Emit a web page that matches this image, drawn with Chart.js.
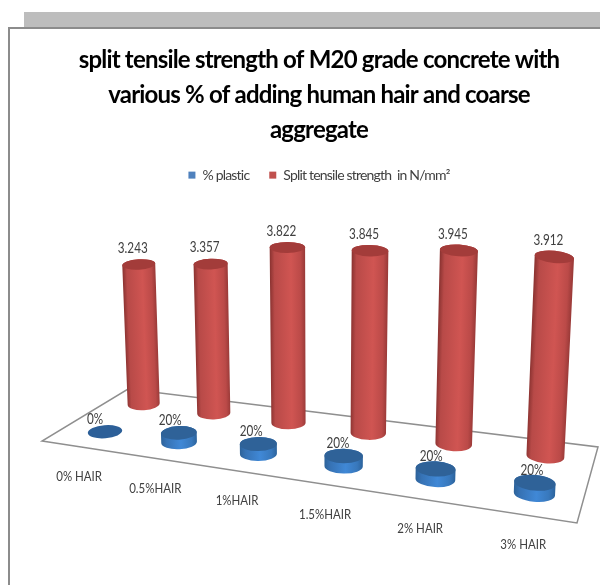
<!DOCTYPE html>
<html>
<head>
<meta charset="utf-8">
<title>Split tensile strength</title>
<style>
  html, body { margin: 0; padding: 0; background: #fff; overflow: hidden; }
  #stage { position: relative; width: 600px; height: 585px; overflow: hidden; }
  #band { position: absolute; left: 24px; top: 12px; right: 0; height: 16px; background: #bdbdbd; }
  #frame { position: absolute; left: 8px; top: 27px; width: 640px; height: 640px; box-sizing: border-box; border: 2px solid #8c8c8c; background: #fff; }
  canvas { position: absolute; left: 0; top: 0; }
</style>
<script src="https://cdn.jsdelivr.net/npm/chart.js@4"></script>
</head>
<body>
<div id="stage">
  <div id="band"></div>
  <div id="frame"></div>
  <canvas id="chart" width="600" height="585"></canvas>
</div>
<script>
// Hair content of each mix
const categories = ['0% HAIR', '0.5%HAIR', '1%HAIR', '1.5%HAIR', '2% HAIR', '3% HAIR'];
// Plastic share, stored as a fraction on the same axis as the strength
const plasticShare = [0, 0.2, 0.2, 0.2, 0.2, 0.2];
// Split tensile strength in N/mm²
const tensileStrength = [3.243, 3.357, 3.822, 3.845, 3.945, 3.912];
const titleLines = [
  'split tensile strength of M20 grade concrete with',
  'various % of adding human hair and coarse',
  'aggregate'
];
const seriesNames = ['% plastic', 'Split tensile strength  in N/mm²'];

// Floor of the 3D scene, in canvas pixels: front-left, front-right, back-right, back-left
const FLOOR = [[42, 441], [577, 523], [598, 447], [128, 389]];
const ROW_DEPTH = [0.25, 0.77];       // depth of each series along the floor
const ROW_SHIFT = [4, 0];             // sideways offset of each row, in pixels
const UNIT_HEIGHT = 47.2;             // pixels per axis unit at the reference depth
const RADIUS_X = 17.6, RADIUS_Y = 6.7;
const FONT = 'Lato, Carlito, sans-serif';

// Solve the perspective transform taking the unit square onto the floor
function floorTransform([p0, p1, p2, p3]) {
  const dx1 = p1[0] - p2[0], dy1 = p1[1] - p2[1];
  const dx2 = p3[0] - p2[0], dy2 = p3[1] - p2[1];
  const sx = p0[0] - p1[0] + p2[0] - p3[0], sy = p0[1] - p1[1] + p2[1] - p3[1];
  const det = dx1 * dy2 - dy1 * dx2;
  const g = (sx * dy2 - sy * dx2) / det;
  const h = (dx1 * sy - dy1 * sx) / det;
  const a = p1[0] - p0[0] + g * p1[0], b = p3[0] - p0[0] + h * p3[0];
  const d = p1[1] - p0[1] + g * p1[1], e = p3[1] - p0[1] + h * p3[1];
  return (u, v) => {
    const w = g * u + h * v + 1;
    return { x: (a * u + b * v + p0[0]) / w, y: (d * u + e * v + p0[1]) / w, w };
  };
}
const toFloor = floorTransform(FLOOR);

// Project a bar element from the chart's scales into the scene
function projectBar(chart, bar, datasetIndex) {
  const area = chart.chartArea;
  const u = (bar.x - area.left) / area.width;
  const pos = toFloor(u, ROW_DEPTH[datasetIndex]);
  const x = pos.x + ROW_SHIFT[datasetIndex];
  const unitPx = area.height / chart.scales.y.max;
  const rise = (bar.base - bar.y) / unitPx * UNIT_HEIGHT / pos.w;
  const lean = 1 + rise / 5000;
  return {
    xb: x, yb: pos.y,
    xt: 320 + (x - 320) * lean, yt: pos.y - rise,
    rx: RADIUS_X / pos.w, ry: RADIUS_Y / pos.w,
    tilt: (x - 300) * 0.0004,
    rise
  };
}

const PALETTE = [
  { top: '#2f6298', flat: '#2c5f98',
    side: [[0, '#2d6299'], [0.15, '#3672b4'], [0.55, '#4088d6'], [0.85, '#3878bc'], [1, '#2c639c']] },
  { top: '#a33c3a', flat: '#a33c3a',
    side: [[0, '#8f3533'], [0.12, '#b84a48'], [0.6, '#d05552'], [0.88, '#bb4a48'], [1, '#9c3b39']] }
];

function drawCylinder(ctx, c, colors) {
  const topRy = c.rise > 50 ? c.ry * 0.85 : c.ry;
  const topRx = c.rx * (1 + c.rise / 5000);
  if (c.rise > 0) {
    const grad = ctx.createLinearGradient(c.xb - c.rx, 0, c.xb + c.rx, 0);
    colors.side.forEach(([at, col]) => grad.addColorStop(at, col));
    ctx.save();
    ctx.beginPath();
    ctx.ellipse(c.xb, c.yb, c.rx, c.ry, c.tilt, 0, Math.PI);
    ctx.ellipse(c.xt, c.yt, topRx, topRy, c.tilt, Math.PI, Math.PI * 2);
    ctx.closePath();
    // Shear the shading so that it runs along the leaning axis of the cylinder
    const shear = (c.xb - c.xt) / (c.yb - c.yt);
    ctx.transform(1, 0, shear, 1, -shear * c.yb, 0);
    ctx.fillStyle = grad;
    ctx.fill();
    ctx.restore();
  }
  ctx.beginPath();
  ctx.ellipse(c.xt, c.yt, topRx, topRy, c.tilt, 0, Math.PI * 2);
  ctx.fillStyle = c.rise > 0 ? colors.top : colors.flat;
  ctx.fill();
}

// Bar controller that paints each bar as an upright cylinder standing on the floor
class CylinderController extends Chart.BarController {
  draw() {
    const chart = this.chart, ctx = chart.ctx;
    ctx.save();
    this._cachedMeta.data.forEach(bar => {
      drawCylinder(ctx, projectBar(chart, bar, this.index), PALETTE[this.index]);
    });
    ctx.restore();
  }
}
CylinderController.id = 'cylinder';
CylinderController.defaults = Chart.BarController.defaults;
Chart.register(CylinderController);

// Tighter tracking for the title and legend, lifted before the marks are drawn
const trackingPlugin = {
  id: 'tracking',
  beforeLayout(chart) { chart.ctx.letterSpacing = '-0.8px'; },
  beforeDraw(chart) { chart.ctx.letterSpacing = '-0.8px'; },
  beforeDatasetsDraw(chart) { chart.ctx.letterSpacing = '0px'; }
};

// Floor outline below the marks
const floorPlugin = {
  id: 'floor',
  beforeDatasetsDraw(chart) {
    const ctx = chart.ctx;
    ctx.save();
    ctx.beginPath();
    FLOOR.forEach(([x, y], i) => i ? ctx.lineTo(x, y) : ctx.moveTo(x, y));
    ctx.closePath();
    ctx.strokeStyle = '#8f8f8f';
    ctx.lineWidth = 1.5;
    ctx.stroke();
    ctx.restore();
  }
};

// Text narrowed horizontally around its centre
function narrowText(ctx, text, x, y, squeeze) {
  ctx.save();
  ctx.translate(x, y);
  ctx.scale(squeeze, 1);
  ctx.fillText(text, 0, 0);
  ctx.restore();
}

// Value labels over the marks and category labels along the floor's front edge
const labelPlugin = {
  id: 'sceneLabels',
  afterDatasetsDraw(chart) {
    const ctx = chart.ctx, area = chart.chartArea;
    ctx.save();
    ctx.textAlign = 'center';
    ctx.textBaseline = 'middle';
    ctx.fillStyle = '#404040';
    ctx.font = '15px ' + FONT;
    chart.getDatasetMeta(1).data.forEach((bar, i) => {
      const c = projectBar(chart, bar, 1);
      narrowText(ctx, tensileStrength[i].toFixed(3), c.xt - 6, c.yt - 16.5, 0.78);
    });
    chart.getDatasetMeta(0).data.forEach((bar, i) => {
      const c = projectBar(chart, bar, 0);
      narrowText(ctx, Math.round(plasticShare[i] * 100) + '%', c.xt - 10 + 1.4 * i, c.yt - 13, 0.78);
    });
    ctx.font = '14px ' + FONT;
    chart.data.labels.forEach((label, i) => {
      const x = chart.scales.x.getPixelForValue(i);
      const p = toFloor((x - area.left) / area.width, 0);
      narrowText(ctx, label, p.x + 1, p.y + 30, 0.82);
    });
    ctx.restore();
  }
};

new Chart(document.getElementById('chart'), {
  type: 'cylinder',
  data: {
    labels: categories,
    datasets: [
      { label: seriesNames[0], data: plasticShare, backgroundColor: '#4f81bd', grouped: false },
      { label: seriesNames[1], data: tensileStrength, backgroundColor: '#c0504d', grouped: false }
    ]
  },
  options: {
    responsive: false,
    animation: false,
    layout: { padding: { left: 38, right: 0, top: 0, bottom: 0 } },
    scales: {
      x: { display: false, type: 'category' },
      y: { display: false, type: 'linear', min: 0, max: 5 }
    },
    plugins: {
      tooltip: { enabled: false },
      title: {
        display: true,
        text: titleLines,
        color: '#000000',
        font: { family: FONT, size: 24, weight: 'bold', lineHeight: 1.46 },
        padding: { top: 43, bottom: 0 }
      },
      legend: {
        display: true,
        position: 'top',
        labels: {
          color: '#404040',
          font: { family: FONT, size: 14 },
          boxWidth: 7, boxHeight: 7, padding: 20
        }
      }
    }
  },
  plugins: [trackingPlugin, floorPlugin, labelPlugin]
});
</script>
</body>
</html>
